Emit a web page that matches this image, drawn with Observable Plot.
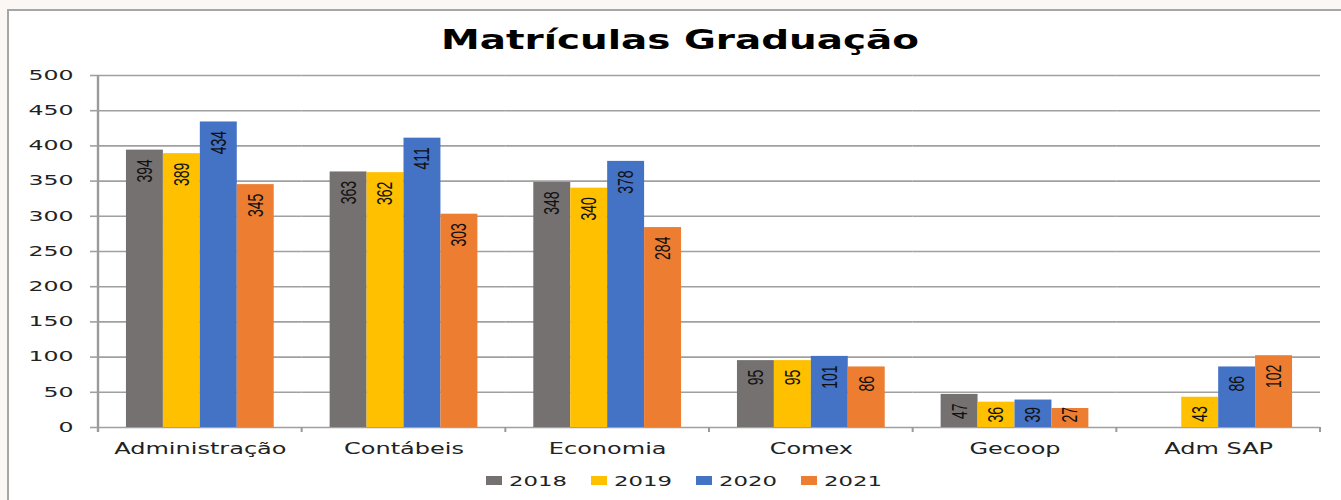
<!DOCTYPE html>
<html>
<head>
<meta charset="utf-8">
<script src="https://cdn.jsdelivr.net/npm/d3@7"></script>
<script src="https://cdn.jsdelivr.net/npm/@observablehq/plot@0.6"></script>
<style>
  html, body { margin: 0; padding: 0; width: 1341px; height: 500px; overflow: hidden; background: #fbf7f5; }
  #frame { position: absolute; left: 7px; top: 9px; width: 1400px; height: 600px; border: 2px solid #a6a6a6; background: #fff; }
  #title { position: absolute; left: 0; top: 26px; width: 1360px; text-align: center; font-family: "DejaVu Sans", sans-serif; font-weight: bold; font-size: 27px; line-height: 27px; color: #000; transform: scaleX(1.44); transform-origin: 680px 0; white-space: nowrap; }
  #chart { position: absolute; left: 0; top: 0; width: 1341px; height: 500px; }
  #legend { position: absolute; left: 0; top: 0; }
  .lg-sw { position: absolute; width: 16px; height: 9px; }
  .lg-tx { position: absolute; font-family: "DejaVu Sans", sans-serif; font-size: 14.5px; line-height: 14.5px; color: #222; transform: scaleX(1.57); transform-origin: 0 0; white-space: nowrap; }
</style>
</head>
<body>
<div id="frame"></div>
<div id="title">Matrículas Graduação</div>
<div id="chart"></div>
<div id="legend"></div>
<script>
const categories = ["Administração", "Contábeis", "Economia", "Comex", "Gecoop", "Adm SAP"];
const years = ["2018", "2019", "2020", "2021"];
const v2018 = [394, 363, 348, 95, 47, null];
const v2019 = [389, 362, 340, 95, 36, 43];
const v2020 = [434, 411, 378, 101, 39, 86];
const v2021 = [345, 303, 284, 86, 27, 102];
const colors = ["#767171", "#FFC000", "#4472C4", "#ED7D31"];
const yTicks = [0, 50, 100, 150, 200, 250, 300, 350, 400, 450, 500];

const series = [v2018, v2019, v2020, v2021];
const data = [];
categories.forEach((c, i) => {
  years.forEach((y, k) => {
    const v = series[k][i];
    if (v != null) data.push({cat: c, year: y, value: v});
  });
});

const axisGrey = "#9a9a9a";
const W = 1341, ML = 98, MR = 21;
const facetW = (W - ML - MR) / categories.length;
const firstCat = [categories[0]];
const lastCat = [categories[categories.length - 1]];

const chart = Plot.plot({
  width: W,
  height: 500,
  marginLeft: ML,
  marginRight: MR,
  marginTop: 75,
  marginBottom: 73,
  style: {background: "transparent", fontFamily: "DejaVu Sans, sans-serif", fontSize: "13.5px", color: "#222"},
  fx: {domain: categories, padding: 0, round: false, label: null},
  x: {domain: years, paddingInner: 0, paddingOuter: 0.757, round: false, axis: null},
  y: {domain: [0, 500], label: null},
  color: {domain: years, range: colors},
  marks: [
    Plot.gridY(yTicks, {stroke: "#a0a0a0", strokeOpacity: 1, strokeWidth: 1.6}),
    // vertical value-axis line (left edge of the first category)
    Plot.rect(firstCat, {fx: d => d, y1: 0, y2: 500, insetLeft: -1.2, insetRight: facetW - 1.2, insetBottom: -5, fill: axisGrey}),
    // category boundary tick marks below the baseline
    Plot.rect(categories, {fx: d => d, y1: 0, y2: 0, insetLeft: -1, insetRight: facetW - 1, insetBottom: -5, fill: axisGrey}),
    Plot.rect(lastCat, {fx: d => d, y1: 0, y2: 0, insetLeft: facetW - 1, insetRight: -1, insetBottom: -5, fill: axisGrey}),
    Plot.barY(data, {fx: "cat", x: "year", y: "value", fill: "year"}),
    Plot.text(data, {
      fx: "cat", x: "year", y: d => Math.max(d.value, 42), text: d => String(d.value),
      rotate: -90, textAnchor: "end", dy: 9, fill: "#111",
      fontFamily: "Liberation Sans, Arial, sans-serif", fontSize: 14
    }),
    Plot.axisY(yTicks, {tickSize: 8, tickPadding: 17, stroke: "#a0a0a0", strokeWidth: 1.6, label: null, fontSize: 13.5}),
    Plot.axisFx({anchor: "bottom", tickSize: 0, tickPadding: 16, label: null, fontSize: 15})
  ]
});
document.getElementById("chart").appendChild(chart);

// horizontal stretch to match the reference's wide lettering
function stretch(sel, f) {
  chart.querySelectorAll(sel).forEach(t => {
    const w = t.getComputedTextLength();
    t.setAttribute("textLength", (w * f).toFixed(1));
    t.setAttribute("lengthAdjust", "spacingAndGlyphs");
  });
}
stretch('g[aria-label="y-axis tick label"] text', 1.75);
stretch('g[aria-label="fx-axis tick label"] text', 1.6);
chart.querySelectorAll('g[aria-label="text"] text').forEach(t => {
  const tr = t.getAttribute("transform") || "";
  t.setAttribute("transform", tr + " scale(1,1.55)");
});

// legend
const legend = document.getElementById("legend");
years.forEach((y, k) => {
  const x0 = 486 + 105 * k;
  const sw = document.createElement("div");
  sw.className = "lg-sw";
  sw.style.left = x0 + "px";
  sw.style.top = "476px";
  sw.style.background = colors[k];
  legend.appendChild(sw);
  const tx = document.createElement("div");
  tx.className = "lg-tx";
  tx.style.left = (x0 + 23) + "px";
  tx.style.top = "474px";
  tx.textContent = y;
  legend.appendChild(tx);
});
</script>
</body>
</html>
